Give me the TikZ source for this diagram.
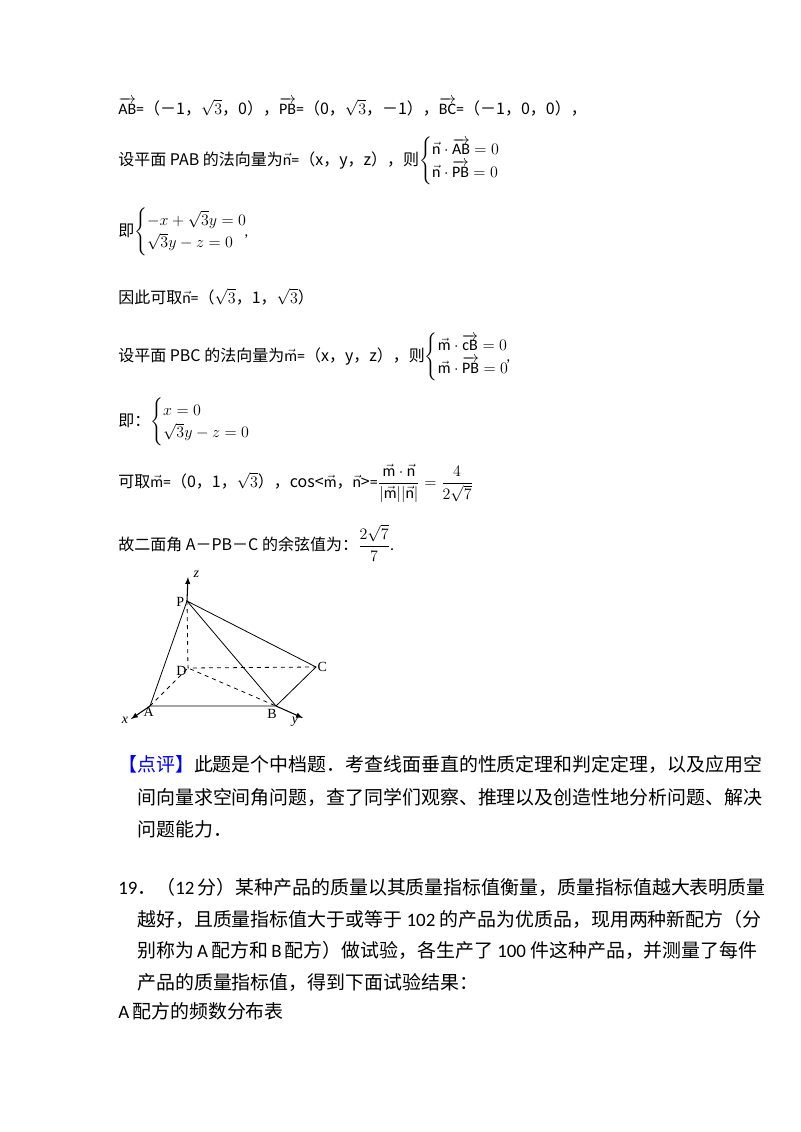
\documentclass[tikz,border=0pt]{standalone}
\usepackage{amsmath}
\usepackage{fontspec}
\setmainfont{Carlito}
\newfontfamily\cjk{Noto Sans CJK SC}
\newfontfamily\serf{Liberation Serif}
\newcommand{\C}[1]{{\cjk #1}}
\newcommand{\vv}[1]{\overrightarrow{\mathrm{#1}}}
\begin{document}
\begin{tikzpicture}[x=0.75pt,y=-0.75pt,
  txt/.style={anchor=west,inner sep=0pt,font=\fontsize{12}{14}\selectfont},
  big/.style={anchor=west,inner sep=0pt,font=\fontsize{14.2}{17}\selectfont},
  lab/.style={font=\fontsize{10.5}{11}\selectfont\serf,inner sep=1pt},
  ilab/.style={font=\fontsize{10.5}{11}\selectfont\serf\itshape,inner sep=1pt},
  edge/.style={line width=0.6pt},
  hid/.style={line width=0.6pt,dashed},
  ax/.style={line width=0.8pt,-latex}]
\useasboundingbox (0,0) rectangle (800,1132);
\node[txt] (l1) at (118,107) {$\vv{AB}$=\C{（－1，}$\sqrt3$\C{，0），}$\vv{PB}$=\C{（0，}$\sqrt3$\C{，－1），}$\vv{BC}$=\C{（－1，0，0），}};
\node[txt] (l2) at (118,161) {\C{设平面 PAB 的法向量为}$\vec{\mathrm n}$=\C{（x，y，z），则}$\begin{cases}\vec{\mathrm n}\cdot\vv{AB}=0\\ \vec{\mathrm n}\cdot\vv{PB}=0\end{cases}$};
\node[txt] (l3) at (118,232) {\C{即}$\begin{cases}-x+\sqrt3y=0\\ \sqrt3y-z=0\end{cases}$\hspace{-1.2em},};
\node[txt] (l4) at (118,297) {\C{因此可取}$\vec{\mathrm n}$=\C{（}$\sqrt3$\C{，1，}$\sqrt3$\C{）}};
\node[txt] (l5) at (118,357) {\C{设平面 PBC 的法向量为}$\vec{\mathrm m}$=\C{（x，y，z），则}$\begin{cases}\vec{\mathrm m}\cdot\overrightarrow{\mathrm{cB}}=0\\ \vec{\mathrm m}\cdot\vv{PB}=0\end{cases}$\hspace{-1.2em},};
\node[txt] (l6) at (118,422) {\C{即：}$\begin{cases}x=0\\ \sqrt3y-z=0\end{cases}$};
\node[txt] (l7) at (118,483) {\C{可取}$\vec{\mathrm m}$=\C{（0，1，}$\sqrt3$\C{），cos<}$\vec{\mathrm m}$\C{，}$\vec{\mathrm n}$\C{>}=$\dfrac{\vec{\mathrm m}\cdot\vec{\mathrm n}}{|\vec{\mathrm m}||\vec{\mathrm n}|}=\dfrac{4}{2\sqrt7}$};
\node[txt] (l8) at (118,543) {\C{故二面角 A－PB－C 的余弦值为：}$\dfrac{2\sqrt7}{7}$.};
% figure
\coordinate (P) at (187,601);
\coordinate (D) at (188,668);
\coordinate (C) at (316,667);
\coordinate (A) at (150,706);
\coordinate (B) at (276,706);
\coordinate (Z) at (188,577);
\coordinate (X) at (131,719);
\coordinate (Y) at (303,718);
\draw[hid] (P) -- (D) -- (C);
\draw[hid] (A) -- (D) -- (B);
\draw[edge] (A) -- (P) -- (B) (P) -- (C) -- (B) -- (A);
\draw[ax] (P) -- (Z);
\draw[ax] (A) -- (X);
\draw[ax] (B) -- (Y);
\node[lab,anchor=east] (lp) at ([xshift=-1pt,yshift=-1pt]P) {P};
\node[lab,anchor=east] (ld) at ([xshift=0pt,yshift=-2pt]D) {D};
\node[lab,anchor=west] (lc) at (C) {C};
\node[lab,anchor=north west] (la) at ([xshift=-6pt]A) {A};
\node[lab,anchor=north] (lb) at ([yshift=-1pt,xshift=-3pt]B) {B};
\node[ilab,anchor=west] (lz) at ([xshift=3pt,yshift=2pt]Z) {z};
\node[ilab,anchor=east] (lx) at ([xshift=-1pt,yshift=-1pt]X) {x};
\node[ilab,anchor=north] (ly) at ([xshift=-6pt,yshift=2pt]Y) {y};
% comments
\node[big] (d1) at (118,764) {\C{\textcolor{blue}{【点评】}此题是个中档题．考查线面垂直的性质定理和判定定理，以及应用空}};
\node[big] (d2) at (137,797) {\C{间向量求空间角问题，查了同学们观察、推理以及创造性地分析问题、解决}};
\node[big] (d3) at (137,829) {\C{问题能力．}};
\node[big] (q1) at (118,887) {19\C{．（}12\,\C{分）某种产品的质量以其质量指标值衡量，质量指标值越大表明质量}};
\node[big] (q2) at (137,919) {\C{越好，且质量指标值大于或等于} 102 \C{的产品为优质品，现用两种新配方（分}};
\node[big] (q3) at (137,950) {\C{别称为}\,A\,\C{配方和}\,B\,\C{配方）做试验，各生产了} 100 \C{件这种产品，并测量了每件}};
\node[big] (q4) at (137,982) {\C{产品的质量指标值，得到下面试验结果：}};
\node[big] (q5) at (118,1011) {A\,\C{配方的频数分布表}};
\end{tikzpicture}
\end{document}
